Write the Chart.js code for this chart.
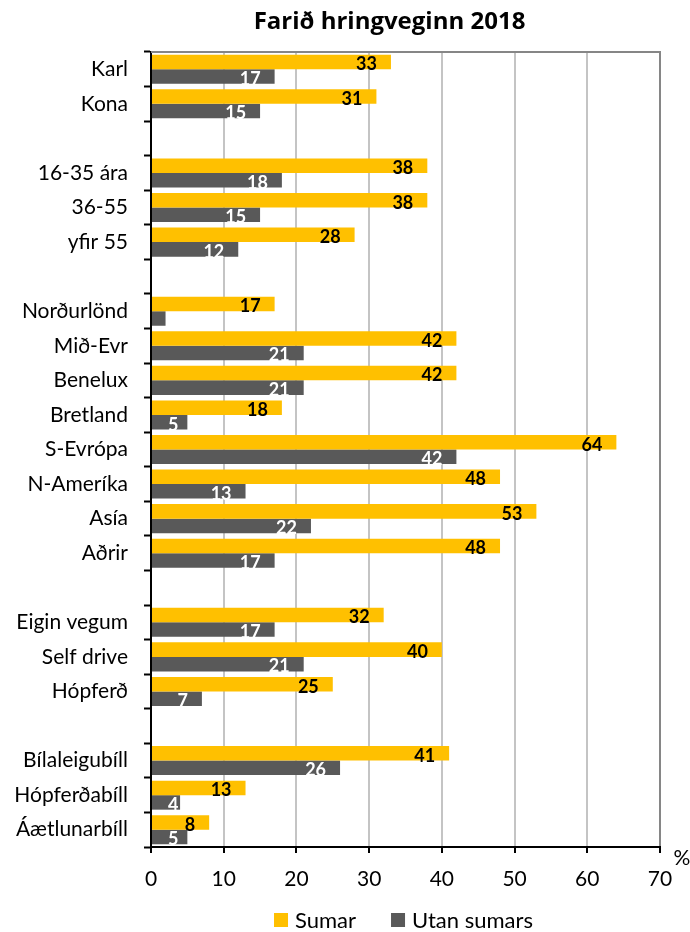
<!DOCTYPE html>
<html>
<head>
<meta charset="utf-8">
<script src="https://cdn.jsdelivr.net/npm/chart.js@4.4.1/dist/chart.umd.min.js"></script>
<style>
    html, body { margin: 0; padding: 0; background: #fff; }
    #wrap { width: 690px; height: 932px; }
</style>
</head>
<body>
<div id="wrap"><canvas id="chart"></canvas></div>
<script>
const categories = [
    'Karl', 'Kona', '',
    '16-35 ára', '36-55', 'yfir 55', '',
    'Norðurlönd', 'Mið-Evr', 'Benelux', 'Bretland', 'S-Evrópa', 'N-Ameríka', 'Asía', 'Aðrir', '',
    'Eigin vegum', 'Self drive', 'Hópferð', '',
    'Bílaleigubíll', 'Hópferðabíll', 'Áætlunarbíll'
];
const sumar = [33, 31, null, 38, 38, 28, null, 17, 42, 42, 18, 64, 48, 53, 48, null, 32, 40, 25, null, 41, 13, 8];
const utanSumars = [17, 15, null, 18, 15, 12, null, 2, 21, 21, 5, 42, 13, 22, 17, null, 17, 21, 7, null, 26, 4, 5];
const xTickValues = [0, 10, 20, 30, 40, 50, 60, 70];
const seriesNames = ['Sumar', 'Utan sumars'];
const titleText = 'Farið hringveginn 2018';
const unitText = '%';

const FONT = 'Lato, "Open Sans", sans-serif';

// labels on the bars, title, legend, unit and top frame line
const extras = {
    id: 'extras',
    afterDatasetsDraw(chart) {
        const ctx = chart.ctx;
        ctx.save();
        ctx.font = 'bold 18px ' + FONT;
        ctx.textAlign = 'right';
        ctx.textBaseline = 'middle';
        chart.data.datasets.forEach((ds, di) => {
            const meta = chart.getDatasetMeta(di);
            ctx.fillStyle = di === 0 ? '#000' : '#fff';
            meta.data.forEach((el, i) => {
                const v = ds.data[i];
                if (v === null || v <= 2) return;
                const txt = String(v);
                const w = ctx.measureText(txt).width;
                const right = Math.max(el.x - 14, el.base + 16 + w);
                ctx.fillText(txt, right, el.y + 2.5);
            });
        });
        ctx.restore();
    },
    afterDraw(chart) {
        const ctx = chart.ctx;
        const a = chart.chartArea;
        ctx.save();
        // top frame
        ctx.strokeStyle = '#868686';
        ctx.lineWidth = 2;
        ctx.beginPath();
        ctx.moveTo(a.left, a.top);
        ctx.lineTo(a.right + 1, a.top);
        ctx.stroke();

        const cx = (a.left + a.right) / 2;
        // title
        ctx.fillStyle = '#000';
        ctx.font = 'bold 24px "Open Sans", sans-serif';
        ctx.textAlign = 'center';
        ctx.textBaseline = 'alphabetic';
        ctx.fillText(titleText, cx - 16, 29);

        // unit
        ctx.font = '21px ' + FONT;
        ctx.textBaseline = 'middle';
        ctx.fillText(unitText, a.right + 22, a.bottom + 11);

        // legend
        ctx.font = '22px ' + FONT;
        ctx.textAlign = 'left';
        const box = 14, gap = 7, between = 35;
        const widths = seriesNames.map(n => ctx.measureText(n).width);
        const total = widths.reduce((s, w) => s + box + gap + w, 0) + between;
        let x = cx - 2 - total / 2;
        const y = 920;
        chart.data.datasets.forEach((ds, di) => {
            ctx.fillStyle = ds.backgroundColor;
            ctx.fillRect(x, y - box / 2, box, box);
            ctx.fillStyle = '#000';
            ctx.fillText(seriesNames[di], x + box + gap, y + 1);
            x += box + gap + widths[di] + between;
        });
        ctx.restore();
    }
};

new Chart(document.getElementById('chart'), {
    type: 'bar',
    data: {
        labels: categories,
        datasets: [
            {
                label: seriesNames[0],
                data: sumar,
                backgroundColor: '#FFC000',
                categoryPercentage: 0.84,
                barPercentage: 1
            },
            {
                label: seriesNames[1],
                data: utanSumars,
                backgroundColor: '#595959',
                categoryPercentage: 0.84,
                barPercentage: 1
            }
        ]
    },
    options: {
        indexAxis: 'y',
        responsive: true,
        maintainAspectRatio: false,
        animation: false,
        devicePixelRatio: 1,
        layout: { padding: { top: 52, right: 30, bottom: 35, left: 0 } },
        plugins: {
            legend: { display: false },
            title: { display: false },
            tooltip: { enabled: false }
        },
        scales: {
            x: {
                min: 0,
                max: 70,
                afterBuildTicks: s => { s.ticks = xTickValues.map(v => ({ value: v })); },
                afterFit: s => { s.height = 50; },
                grid: {
                    color: c => (c.tick && c.tick.value === 70) ? '#868686' : (c.tick && c.tick.value === 0 ? '#000' : '#c4c4c4'),
                    lineWidth: 2,
                    tickColor: '#000',
                    tickLength: 6,
                    tickWidth: 2
                },
                border: { color: '#000', width: 2 },
                ticks: {
                    color: '#000',
                    font: { family: FONT, size: 21 },
                    padding: 14,
                    maxRotation: 0
                }
            },
            y: {
                afterFit: s => { s.width = 151; },
                grid: {
                    drawOnChartArea: false,
                    color: '#000',
                    tickColor: '#000',
                    tickLength: 7,
                    tickWidth: 2,
                    offset: true
                },
                border: { color: '#000', width: 2 },
                ticks: {
                    color: '#000',
                    font: { family: FONT, size: 21 },
                    padding: 16,
                    autoSkip: false
                }
            }
        }
    },
    plugins: [extras]
});
</script>
</body>
</html>
